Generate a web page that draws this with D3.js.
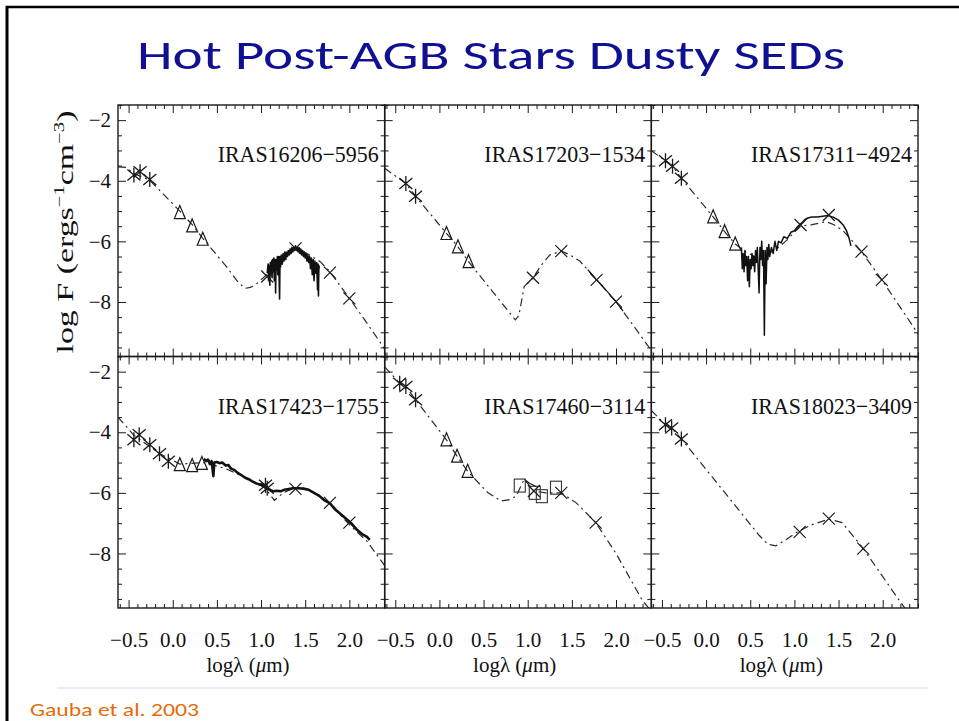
<!DOCTYPE html>
<html><head><meta charset="utf-8">
<script src="https://cdn.jsdelivr.net/npm/d3@7/dist/d3.min.js"></script>
<style>
html,body{margin:0;padding:0;background:#fff;}
svg{display:block;}
</style></head>
<body>
<svg id="chart" width="959" height="721"></svg>
<script>
// ---------- data ----------
const panelNames = ["IRAS16206\u22125956","IRAS17203\u22121534","IRAS17311\u22124924",
                    "IRAS17423\u22121755","IRAS17460\u22123114","IRAS18023\u22123409"];
const xTickValues = [-0.5,0,0.5,1,1.5,2];
const xTickLabels = ["\u22120.5","0.0","0.5","1.0","1.5","2.0"];
const yTickValues = [-2,-4,-6,-8];
const yTickLabels = ["\u22122","\u22124","\u22126","\u22128"];
const xDomain = [-0.62, 2.4];
const yDomain = [-9.8, -1.5];

// Panel 1: IRAS16206-5956
const p1Model = [[-0.62,-3.54],[-0.53,-3.56],[-0.44,-3.76],[-0.26,-3.98],[0.08,-5.0],[0.22,-5.45],[0.34,-5.9],[0.61,-6.84],[0.74,-7.35],[0.82,-7.55],[0.88,-7.52],[0.95,-7.4],[1.06,-7.11],[1.22,-6.62],[1.3,-6.42],[1.37,-6.29],[1.45,-6.3],[1.52,-6.4],[1.67,-6.67],[1.78,-7.0],[2.0,-7.88],[2.2,-8.7],[2.4,-9.55]];
const p1Stars = [[-0.44,-3.81],[-0.37,-3.70],[-0.26,-3.96]];
const p1Triangles = [[0.08,-5.05],[0.22,-5.49],[0.34,-5.93]];
const p1Crosses = [[1.07,-7.16],[1.39,-6.23],[1.78,-7.03],[2.0,-7.88]];
const p1Squares = [];
const p1Spectrum = [[1.07,-7.05],[1.08,-6.75],[1.085,-7.3],[1.09,-6.8],[1.10,-7.45],[1.105,-6.7],[1.11,-7.1],[1.12,-6.65],[1.125,-7.2],[1.13,-6.6],[1.14,-7.0],[1.145,-6.55],[1.15,-7.3],[1.16,-6.6],[1.165,-7.7],[1.17,-6.6],[1.18,-6.95],[1.185,-6.5],[1.19,-7.1],[1.20,-6.5],[1.21,-7.9],[1.215,-6.5],[1.22,-6.85],[1.23,-6.45],[1.24,-6.75],[1.25,-6.4],[1.26,-6.65],[1.27,-6.35],[1.28,-6.6],[1.29,-6.35],[1.30,-6.5],[1.31,-6.3],[1.32,-6.45],[1.33,-6.25],[1.34,-6.4],[1.35,-6.2],[1.36,-6.35],[1.37,-6.2],[1.38,-6.3],[1.39,-6.15],[1.40,-6.3],[1.41,-6.2],[1.42,-6.35],[1.43,-6.2],[1.44,-6.4],[1.45,-6.25],[1.46,-6.45],[1.47,-6.3],[1.48,-6.5],[1.49,-6.35],[1.50,-6.55],[1.51,-6.4],[1.52,-6.65],[1.53,-6.45],[1.54,-6.7],[1.55,-6.5],[1.56,-6.9],[1.57,-6.55],[1.58,-7.1],[1.59,-6.6],[1.60,-7.3],[1.61,-6.65],[1.62,-7.05],[1.63,-6.7],[1.64,-7.6],[1.645,-6.75],[1.65,-7.8],[1.655,-6.8],[1.66,-6.9]];

// Panel 2: IRAS17203-1534
const p2Model = [[-0.62,-3.59],[-0.38,-4.09],[-0.27,-4.51],[0.08,-5.74],[0.21,-6.18],[0.33,-6.67],[0.6,-7.65],[0.86,-8.59],[0.9,-8.45],[0.96,-7.49],[1.06,-7.2],[1.15,-6.8],[1.25,-6.45],[1.38,-6.32],[1.48,-6.45],[1.59,-6.65],[1.78,-7.27],[2.0,-7.99],[2.4,-9.6]];
const p2Stars = [[-0.38,-4.09],[-0.27,-4.51]];
const p2Triangles = [[0.08,-5.74],[0.21,-6.18],[0.33,-6.67]];
const p2Crosses = [[1.06,-7.2],[1.38,-6.32],[1.78,-7.27],[2.0,-7.99]];
const p2Squares = [];
const p2Spectrum = [[1.68,-6.93],[1.78,-7.27],[1.9,-7.65],[2.0,-7.99],[2.08,-8.3]];

// Panel 3: IRAS17311-4924
const p3Model = [[-0.62,-3.01],[-0.46,-3.34],[-0.38,-3.52],[-0.28,-3.92],[0.08,-5.19],[0.21,-5.68],[0.33,-6.09],[0.45,-6.35],[0.55,-6.5],[0.68,-6.45],[0.8,-6.25],[0.9,-6.0],[1.0,-5.7],[1.07,-5.5],[1.2,-5.45],[1.36,-5.35],[1.45,-5.45],[1.55,-5.65],[1.63,-5.9],[1.76,-6.34],[1.99,-7.27],[2.4,-9.05]];
const p3Stars = [[-0.46,-3.34],[-0.38,-3.52],[-0.28,-3.92]];
const p3Triangles = [[0.08,-5.19],[0.21,-5.68],[0.33,-6.09]];
const p3Crosses = [[1.07,-5.46],[1.39,-5.13],[1.76,-6.34],[1.99,-7.27]];
const p3Squares = [];
const p3Spectrum = [[0.40,-6.2],[0.41,-6.9],[0.42,-6.4],[0.43,-7.0],[0.44,-6.3],[0.45,-6.8],[0.46,-6.5],[0.47,-7.3],[0.48,-6.5],[0.49,-7.5],[0.50,-6.6],[0.51,-6.9],[0.52,-6.4],[0.53,-6.8],[0.54,-6.5],[0.55,-7.0],[0.56,-6.3],[0.57,-6.7],[0.58,-6.2],[0.59,-6.9],[0.60,-7.7],[0.61,-6.2],[0.62,-6.6],[0.63,-6.0],[0.64,-6.8],[0.65,-6.3],[0.66,-9.1],[0.67,-6.3],[0.68,-7.4],[0.69,-6.2],[0.70,-6.6],[0.71,-6.1],[0.72,-6.5],[0.74,-6.2],[0.76,-6.4],[0.78,-6.0],[0.80,-6.3],[0.82,-6.0],[0.85,-6.05],[0.88,-5.85],[0.92,-5.9],[0.96,-5.7],[1.00,-5.65],[1.04,-5.5],[1.08,-5.4],[1.12,-5.28],[1.16,-5.22],[1.20,-5.2],[1.26,-5.2],[1.32,-5.17],[1.38,-5.15],[1.44,-5.2],[1.50,-5.3],[1.55,-5.45],[1.59,-5.65],[1.62,-5.9],[1.64,-6.15]];

// Panel 4: IRAS17423-1755
const p4Model = [[-0.62,-3.5],[-0.44,-4.1],[-0.15,-4.7],[0.08,-5.05],[0.35,-5.0],[0.6,-5.2],[0.9,-5.6],[1.05,-5.85],[1.15,-6.25],[1.25,-6.0],[1.37,-5.85],[1.55,-5.9],[1.78,-6.35],[2.0,-7.05],[2.2,-7.6],[2.4,-8.4]];
const p4Stars = [[-0.44,-4.25],[-0.38,-4.08],[-0.26,-4.41],[-0.15,-4.71],[-0.05,-4.96],[1.05,-5.75],[1.07,-5.85]];
const p4Triangles = [[0.08,-5.07],[0.22,-5.1],[0.33,-5.03]];
const p4Crosses = [[1.39,-5.87],[1.78,-6.33],[2.0,-6.98]];
const p4Squares = [];
const p4Spectrum = [[0.35,-4.88],[0.38,-4.95],[0.40,-4.9],[0.42,-5.05],[0.44,-4.95],[0.46,-5.45],[0.47,-5.0],[0.50,-4.98],[0.53,-5.02],[0.56,-5.0],[0.60,-5.1],[0.63,-5.08],[0.66,-5.2],[0.70,-5.25],[0.74,-5.35],[0.78,-5.42],[0.82,-5.5],[0.86,-5.55],[0.90,-5.62],[0.94,-5.68],[0.98,-5.72],[1.02,-5.75],[1.06,-5.85],[1.10,-5.9],[1.14,-5.95],[1.18,-5.93],[1.22,-5.95],[1.26,-5.9],[1.30,-5.88],[1.36,-5.85],[1.42,-5.85],[1.48,-5.86],[1.54,-5.9],[1.60,-6.0],[1.66,-6.1],[1.72,-6.25],[1.78,-6.35],[1.84,-6.55],[1.90,-6.7],[1.96,-6.85],[2.02,-7.0],[2.08,-7.2],[2.14,-7.35],[2.20,-7.45],[2.23,-7.55]];

// Panel 5: IRAS17460-3114
const p5Model = [[-0.62,-1.84],[-0.45,-2.38],[-0.38,-2.49],[-0.27,-2.93],[0.08,-4.25],[0.2,-4.79],[0.32,-5.29],[0.55,-6.0],[0.7,-6.27],[0.8,-6.22],[0.87,-6.1],[0.96,-5.55],[1.07,-5.94],[1.2,-6.0],[1.38,-6.0],[1.55,-6.33],[1.77,-6.98],[2.0,-8.0],[2.3,-9.56],[2.4,-9.9]];
const p5Stars = [[-0.45,-2.38],[-0.38,-2.49],[-0.27,-2.93]];
const p5Triangles = [[0.08,-4.25],[0.2,-4.79],[0.32,-5.29]];
const p5Crosses = [[1.07,-5.94],[1.38,-6.0],[1.77,-6.98]];
const p5Squares = [[0.91,-5.76],[1.08,-6.0],[1.16,-6.11],[1.32,-5.83]];
const p5Spectrum = [[0.96,-5.55],[1.02,-5.68],[1.1,-5.8]];

// Panel 6: IRAS18023-3409
const p6Model = [[-0.62,-3.28],[-0.46,-3.75],[-0.39,-3.86],[-0.28,-4.22],[0.0,-5.23],[0.38,-6.6],[0.6,-7.4],[0.7,-7.7],[0.79,-7.75],[0.9,-7.55],[1.05,-7.26],[1.2,-7.05],[1.39,-6.87],[1.54,-6.98],[1.77,-7.8],[2.19,-9.56],[2.3,-10.0]];
const p6Stars = [[-0.46,-3.75],[-0.39,-3.86],[-0.28,-4.22]];
const p6Triangles = [];
const p6Crosses = [[1.06,-7.29],[1.39,-6.85],[1.78,-7.84]];
const p6Squares = [];
const p6Spectrum = [];

// ---------- layout ----------
const svg = d3.select("#chart");
const frameLeft = 118, panelW = 266.67, frameTop = 105, panelH = 251.5;

// slide border
svg.append("line").attr("x1",7).attr("x2",7).attr("y1",6).attr("y2",721).attr("stroke","#000").attr("stroke-width",3);
svg.append("line").attr("x1",6).attr("x2",959).attr("y1",7).attr("y2",7).attr("stroke","#000").attr("stroke-width",2.5);

// title
svg.append("text").attr("x",491).attr("y",69).attr("text-anchor","middle")
  .attr("font-family","Carlito, Calibri, 'Open Sans', Lato, sans-serif").attr("font-size",42)
  .attr("fill","#101092").attr("textLength",708).attr("lengthAdjust","spacingAndGlyphs")
  .text("Hot Post-AGB Stars Dusty SEDs");

const x = d3.scaleLinear().domain(xDomain).range([0, panelW]);
const y = d3.scaleLinear().domain(yDomain).range([panelH, 0]);
const serif = "'Liberation Serif', 'Times New Roman', serif";

const panels = [
  {model:p1Model, stars:p1Stars, tri:p1Triangles, cross:p1Crosses, sq:p1Squares, spec:p1Spectrum, sw:1.6},
  {model:p2Model, stars:p2Stars, tri:p2Triangles, cross:p2Crosses, sq:p2Squares, spec:p2Spectrum, sw:1.2},
  {model:p3Model, stars:p3Stars, tri:p3Triangles, cross:p3Crosses, sq:p3Squares, spec:p3Spectrum, sw:1.5},
  {model:p4Model, stars:p4Stars, tri:p4Triangles, cross:p4Crosses, sq:p4Squares, spec:p4Spectrum, sw:2.6},
  {model:p5Model, stars:p5Stars, tri:p5Triangles, cross:p5Crosses, sq:p5Squares, spec:p5Spectrum, sw:1.2},
  {model:p6Model, stars:p6Stars, tri:p6Triangles, cross:p6Crosses, sq:p6Squares, spec:p6Spectrum, sw:1.2}
];
const minorX = d3.range(-6,25).map(d=>d/10).filter(d=>d>=xDomain[0]&&d<=xDomain[1]&&Math.abs(d*2-Math.round(d*2))>1e-6);
const minorY = d3.range(-19,-2).map(d=>d/2).filter(d=>d%2!==0);

const line = d3.line().x(d=>x(d[0])).y(d=>y(d[1]));
const ink = "#1a1a1a";

panels.forEach((p,i)=>{
  const col = i%3, row = Math.floor(i/3);
  const g = svg.append("g").attr("transform",`translate(${frameLeft+col*panelW},${frameTop+row*panelH})`);
  const clipId = "clip"+i;
  g.append("clipPath").attr("id",clipId).append("rect").attr("width",panelW).attr("height",panelH);
  const plot = g.append("g").attr("clip-path",`url(#${clipId})`);

  // model (dash-dot)
  plot.append("path").datum(p.model).attr("d",line.curve(d3.curveLinear)).attr("fill","none")
    .attr("stroke","#2a2a2a").attr("stroke-width",1.2).attr("stroke-dasharray","8,4,2,4");
  // spectrum
  if(p.spec.length){
    plot.append("path").datum(p.spec).attr("d",line.curve(d3.curveLinear)).attr("fill","none")
      .attr("stroke","#111").attr("stroke-width",p.sw).attr("stroke-linejoin","round");
  }
  // triangles
  plot.selectAll(".tri").data(p.tri).join("path")
    .attr("d",d=>{const cx=x(d[0]),cy=y(d[1]);return `M${cx},${cy-7}L${cx+5.5},${cy+6}L${cx-5.5},${cy+6}Z`;})
    .attr("fill","none").attr("stroke",ink).attr("stroke-width",1.2);
  // squares
  plot.selectAll(".sq").data(p.sq).join("rect")
    .attr("x",d=>x(d[0])-5.5).attr("y",d=>y(d[1])-6.5).attr("width",11).attr("height",13)
    .attr("fill","none").attr("stroke","#333").attr("stroke-width",1.1);
  // crosses
  plot.selectAll(".cr").data(p.cross).join("path")
    .attr("d",d=>{const cx=x(d[0]),cy=y(d[1]);return `M${cx-6},${cy-6}L${cx+6},${cy+6}M${cx-6},${cy+6}L${cx+6},${cy-6}`;})
    .attr("stroke",ink).attr("stroke-width",1.2);
  // asterisks
  plot.selectAll(".st").data(p.stars).join("path")
    .attr("d",d=>{const cx=x(d[0]),cy=y(d[1]);return `M${cx-6.5},${cy-5.5}L${cx+6.5},${cy+5.5}M${cx-6.5},${cy+5.5}L${cx+6.5},${cy-5.5}M${cx},${cy-7.5}L${cx},${cy+7.5}`;})
    .attr("stroke",ink).attr("stroke-width",1.3);

  // axes: ticks inward on all sides
  const mk = (axis, tr, vals, size, labels) => {
    const a = axis.tickValues(vals).tickSizeInner(size).tickSizeOuter(0);
    if(labels) a.tickFormat((d,k)=>labels[k]); else a.tickFormat("");
    const ag = g.append("g").attr("transform",tr).call(a);
    ag.select(".domain").remove();
    ag.selectAll("line").attr("stroke",ink).attr("stroke-width",1);
    return ag;
  };
  const bottomLabels = row===1 ? xTickLabels : null;
  const bx = mk(d3.axisBottom(x).tickPadding(24), `translate(0,${panelH})`, xTickValues, -8, bottomLabels);
  mk(d3.axisBottom(x), `translate(0,${panelH})`, minorX, -4, null);
  mk(d3.axisTop(x), `translate(0,0)`, xTickValues, -8, null);
  mk(d3.axisTop(x), `translate(0,0)`, minorX, -4, null);
  const leftLabels = col===0 ? yTickLabels : null;
  const ly = mk(d3.axisLeft(y).tickPadding(7), `translate(0,0)`, yTickValues, -8, leftLabels);
  mk(d3.axisLeft(y), `translate(0,0)`, minorY, -4, null);
  mk(d3.axisRight(y), `translate(${panelW},0)`, yTickValues, -8, null);
  mk(d3.axisRight(y), `translate(${panelW},0)`, minorY, -4, null);
  [bx,ly].forEach(a=>a.selectAll("text").attr("font-family",serif).attr("font-size",21).attr("fill","#111"));

  // frame
  g.append("rect").attr("width",panelW).attr("height",panelH).attr("fill","none")
    .attr("stroke",ink).attr("stroke-width",1.4);

  // panel name
  g.append("text").attr("x",panelW-6).attr("y",57).attr("text-anchor","end")
    .attr("font-family",serif).attr("font-size",23).attr("fill","#111")
    .attr("textLength",161).attr("lengthAdjust","spacingAndGlyphs").text(panelNames[i]);

  // x axis title
  if(row===1){
    const t = svg.append("text").attr("x",frameLeft+col*panelW+130).attr("y",672).attr("text-anchor","middle")
      .attr("font-family",serif).attr("font-size",21).attr("fill","#111");
    t.append("tspan").text("log\u03bb (");
    t.append("tspan").attr("font-style","italic").text("\u03bc");
    t.append("tspan").text("m)");
  }
});

// y axis title
const yt = svg.append("text").attr("transform","translate(73,232) rotate(-90)").attr("text-anchor","middle")
  .attr("font-family",serif).attr("font-size",23).attr("fill","#111");
yt.append("tspan").text("log F  (ergs");
yt.append("tspan").attr("font-size",14).attr("dy",-9).text("\u22121");
yt.append("tspan").attr("dy",9).text("cm");
yt.append("tspan").attr("font-size",14).attr("dy",-9).text("\u22123");
yt.append("tspan").attr("dy",9).text(")");
yt.attr("textLength",243).attr("lengthAdjust","spacingAndGlyphs");

// separator + source
svg.append("line").attr("x1",57).attr("x2",928).attr("y1",688).attr("y2",688).attr("stroke","#d9d9d9").attr("stroke-width",1);
svg.append("text").attr("x",30).attr("y",716).attr("font-family","Carlito, Calibri, 'Open Sans', Lato, sans-serif")
  .attr("font-size",19).attr("fill","#E46C0A").attr("textLength",169).attr("lengthAdjust","spacingAndGlyphs").text("Gauba et al. 2003");
</script>
</body></html>
